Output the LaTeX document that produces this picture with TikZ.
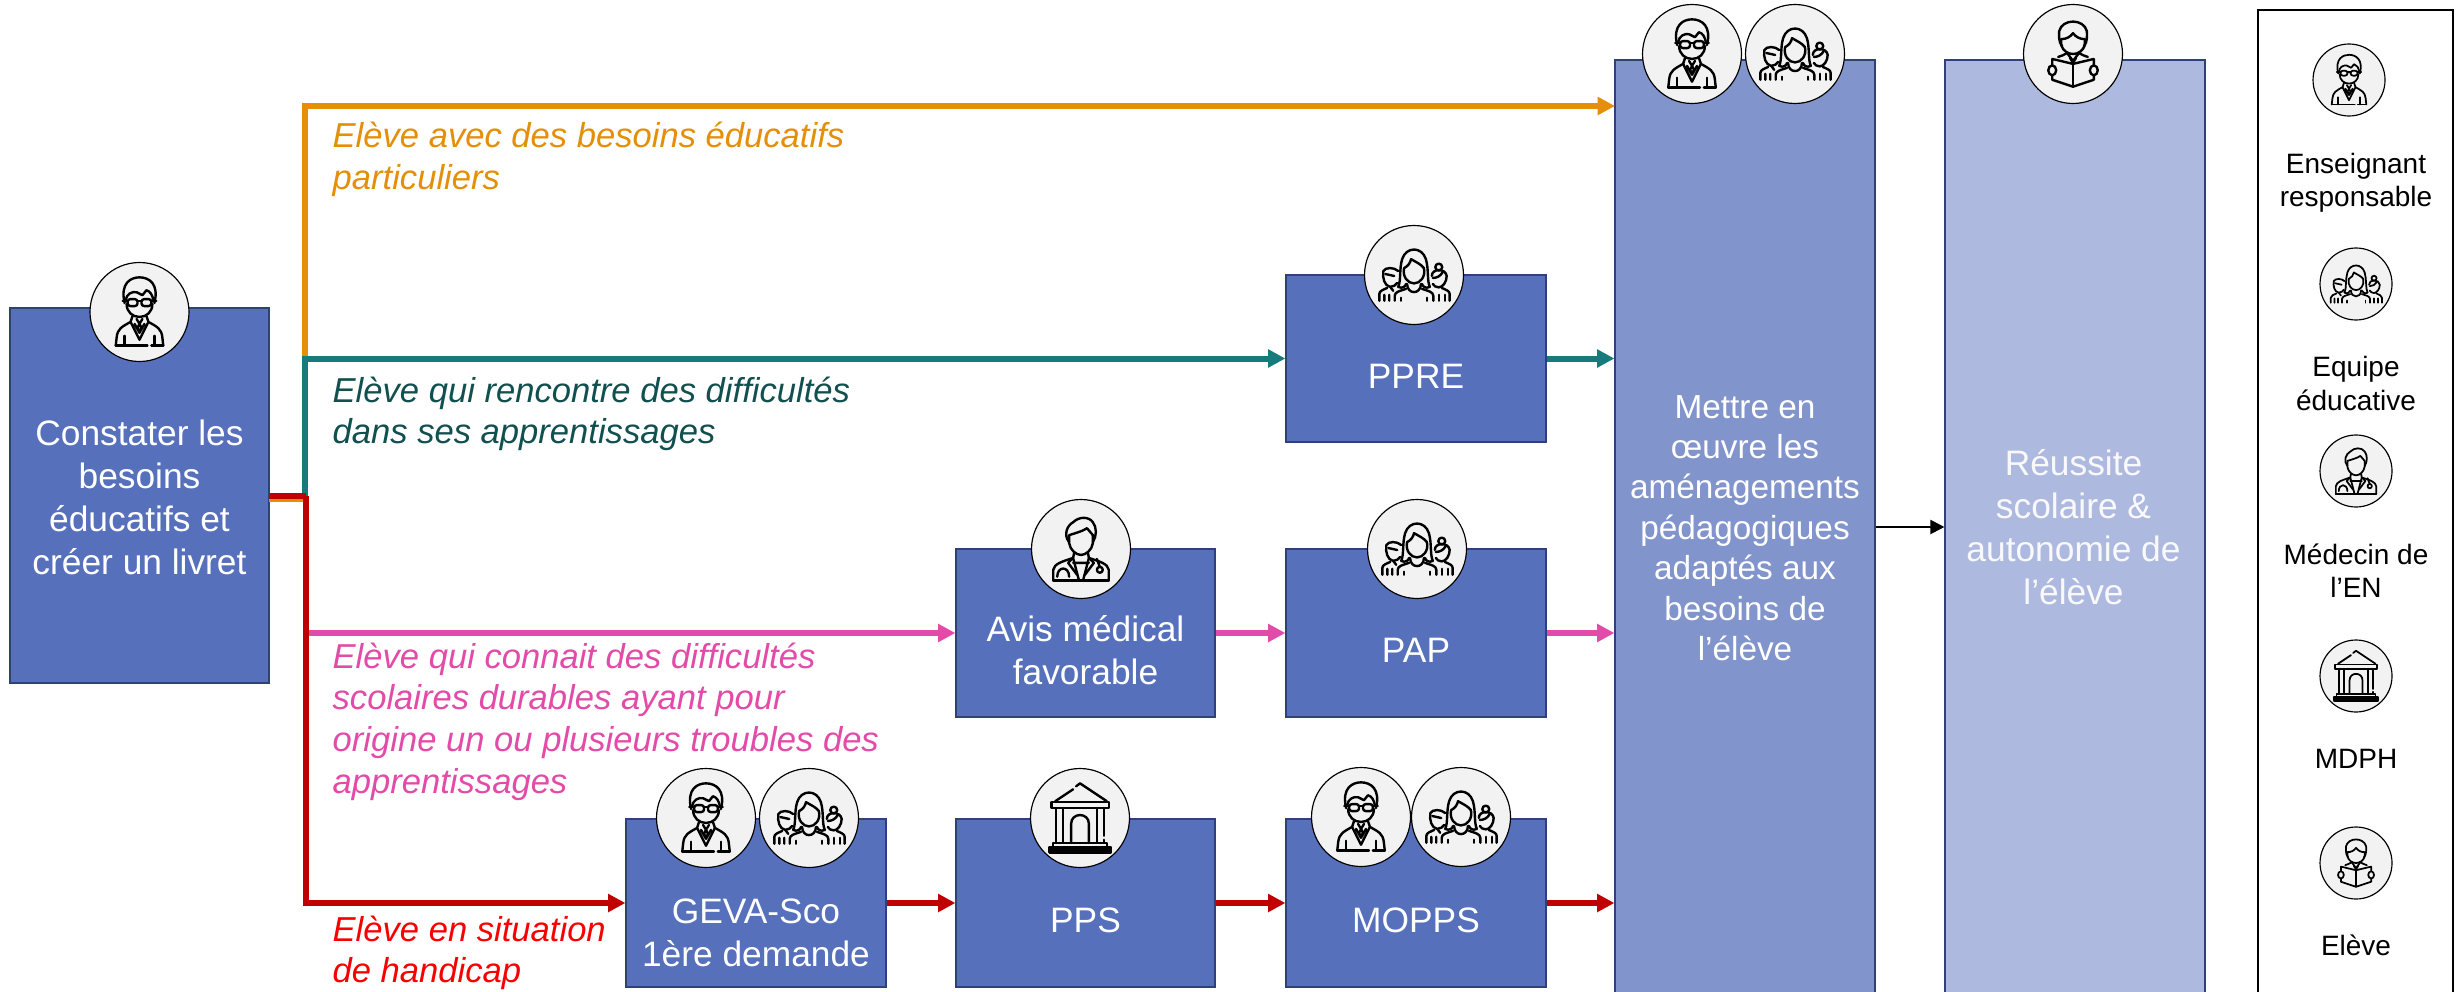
\documentclass[tikz,border=0pt]{standalone}
\usepackage{fontspec}
\setmainfont{Liberation Sans}
\usetikzlibrary{arrows.meta}
\definecolor{cbox}{HTML}{5670BC}
\definecolor{cmid}{HTML}{8294CC}
\definecolor{cres}{HTML}{AEB9DF}
\definecolor{cedge}{HTML}{2F4177}
\definecolor{cicon}{HTML}{F2F2F2}
\definecolor{corange}{HTML}{E48F07}
\definecolor{cteal}{HTML}{187B7B}
\definecolor{ctealt}{HTML}{124F4F}
\definecolor{cpink}{HTML}{E24BA8}
\definecolor{cdred}{HTML}{C00000}
\definecolor{credt}{HTML}{F80000}
\tikzset{
  x=0.3pt,y=-0.3pt,
  boxn/.style={draw=cedge,line width=0.35pt,fill=#1,inner sep=0pt},
  boxt/.style={text=white,align=center,inner sep=0pt,font=\fontsize{10.6}{12.9}\selectfont},
  note/.style={align=left,inner sep=0pt,anchor=west,font=\fontsize{10.38}{12.5}\selectfont\itshape},
  legt/.style={text=black,align=center,inner sep=0pt,font=\fontsize{8.4}{10}\selectfont},
  iconc/.style={circle,draw=black,line width=0.35pt,fill=cicon,inner sep=0pt},
  conn/.style={line width=1.8pt,-{Triangle[length=5.2pt,width=5.2pt]}},
  stem/.style={line width=1.8pt},
  ic/.style={line cap=round,line join=round},
  pics/teacher/.style={code={
    \draw[ic] (-15,-9) .. controls (-20,-30) and (-8,-35) .. (0,-35) .. controls (10,-35) and (20,-28) .. (15,-9);
    \draw[ic] (-14,-12) .. controls (-13,-18) and (-8,-21) .. (-3,-20) -- (3,-17) -- (7,-22) .. controls (11,-21) and (13,-17) .. (14,-12);
    \draw[ic] (-13,-8) .. controls (-13,0) and (-7,5) .. (0,5) .. controls (7,5) and (13,0) .. (13,-8);
    \draw[ic,rounded corners=0.8pt] (-12,-13) rectangle (-2,-6) (2,-13) rectangle (12,-6);
    \draw[ic] (-2,-11) -- (2,-11) (-12,-11) -- (-17,-11) (12,-11) -- (17,-11);
    \draw[ic] (-24,34) -- (-23,25) .. controls (-22,17) and (-18,15) .. (-9,10) -- (-7,4);
    \draw[ic] (24,34) -- (23,25) .. controls (22,17) and (18,15) .. (9,10) -- (7,4);
    \draw[ic] (-24,34) -- (8,34) (12,34) -- (24,34);
    \draw[ic] (-15,24) -- (-15,34) (15,24) -- (15,34);
    \draw[ic] (-9,10) -- (0,28) -- (9,10) (-5,12) -- (0,21) -- (5,12);
    \draw[ic] (-3,7) -- (0,12) -- (3,7) (0,12) -- (-2,16) -- (0,20) -- (2,16) -- (0,12);
  }},
  pics/team/.style={code={
    \draw[ic] (-16,12) .. controls (-13,6) and (-15,-6) .. (-12,-16) .. controls (-8,-29) and (8,-29) .. (12,-16) .. controls (15,-6) and (13,6) .. (16,12);
    \draw[ic] (-16,12) .. controls (-12,14) and (-9,12) .. (-8,9) (16,12) .. controls (12,14) and (9,12) .. (8,9);
    \draw[ic] (-10,-7) .. controls (-6,-9) and (-4,-12) .. (-3,-16) .. controls (2,-13) and (7,-11) .. (10,-7);
    \draw[ic] (-10,-7) .. controls (-12,2) and (-6,8.5) .. (0,8.5) .. controls (6,8.5) and (12,2) .. (10,-7);
    \draw[ic] (-7,9) .. controls (-7,20) and (7,20) .. (7,9);
    \draw[ic] (-19.5,26) -- (-19.5,21) .. controls (-19.5,17) and (-14,16) .. (-8,14);
    \draw[ic] (19.5,26) -- (19.5,21) .. controls (19.5,17) and (14,16) .. (8,14);
    \draw[ic] (-13,23) -- (-13,26) (13,23) -- (13,26);
    \draw[ic] (-16,-4) .. controls (-20,-8) and (-29,-8) .. (-31,-4) .. controls (-32,3) and (-30,11) .. (-24,12) .. controls (-21,12) and (-18,10) .. (-17,8);
    \draw[ic] (-29,-1) -- (-20,1);
    \draw[ic] (-35,26) -- (-35,19) .. controls (-35,16) and (-31,15) .. (-27,13);
    \draw[ic] (-30,20) -- (-30,26) (-25,20) -- (-25,26) (-24,12) -- (-21,16);
    \draw[ic] (25,-8) circle (3.5);
    \draw[ic] (18,1) .. controls (18,-7) and (32,-7) .. (33,1) .. controls (33,7) and (29,12.5) .. (25,12.5) .. controls (22,12.5) and (20,11) .. (19,9);
    \draw[ic] (19,3) .. controls (23,3) and (27,1) .. (29,-3);
    \draw[ic] (36,26) -- (36,19) .. controls (36,16) and (32,15) .. (28,13);
    \draw[ic] (31,20) -- (31,26) (25,20) -- (25,26);
  }},
  pics/doctor/.style={code={
    \draw[ic] (-12,-7) .. controls (-18,-14) and (-14,-24) .. (-8,-27) .. controls (-2,-33) and (8,-33) .. (12,-27) .. controls (16,-22) and (16,-13) .. (12,-7);
    \draw[ic] (-12,-14) .. controls (-6,-16) and (2,-18) .. (6,-21) .. controls (8,-18) and (11,-16) .. (12,-14);
    \draw[ic] (-12,-14) -- (-12,-6) .. controls (-11,1) and (-5,6) .. (0,6) .. controls (5,6) and (11,1) .. (12,-6) -- (12,-14);
    \draw[ic] (-28,32) -- (-28,21) .. controls (-27,15) and (-20,13) .. (-8,9) -- (-7,4);
    \draw[ic] (28,32) -- (28,21) .. controls (27,15) and (20,13) .. (8,9) -- (7,4);
    \draw[ic] (-28,32) -- (28,32);
    \draw[ic] (-8,9) -- (-2,32) (8,9) -- (2,32) (-8,14) -- (8,14);
    \draw[ic] (-8,9) -- (-13,14) -- (-4,26) (8,9) -- (13,14) -- (4,26);
    \draw[ic] (-24,28) .. controls (-24,17) and (-12,17) .. (-12,28);
    \draw[ic] (19,21) circle (3);
    \draw[ic] (16,10) -- (19,18);
  }},
  pics/building/.style={code={
    \draw[ic] (-4,-32) -- (0,-35) -- (27,-17) (-7,-29) -- (-25,-17);
    \draw[ic] (-29,-16) rectangle (29,-10);
    \draw[ic] (-24,-10) -- (-24,25) (-17,-10) -- (-17,25) (17,-10) -- (17,25) (24,-10) -- (24,18) (24,22) -- (24,25);
    \draw[ic] (-9,25) -- (-9,6) .. controls (-9,-6) and (9,-6) .. (9,6) -- (9,25);
    \draw[ic] (-27,25) rectangle (27,29);
    \draw[ic] (-31,29) rectangle (31,35);
    \draw[ic] (-31,32) -- (31,32);
  }},
  pics/student/.style={code={
    \draw[ic] (-11,-8) .. controls (-15,-12) and (-14,-20) .. (-14,-23) .. controls (-11,-36) and (11,-36) .. (14,-23) .. controls (14,-20) and (15,-12) .. (11,-8);
    \draw[ic] (-12,-15) .. controls (-7,-15) and (-3,-17) .. (0,-21) .. controls (3,-17) and (7,-15) .. (12,-15);
    \draw[ic] (-12,-15) -- (-12,-9) .. controls (-10,-3) and (-5,0) .. (0,0) .. controls (5,0) and (10,-3) .. (12,-9) -- (12,-15);
    \draw[ic] (-21,5) -- (0,10) -- (21,5) (-21,5) -- (-21,26) -- (0,33) -- (21,26) -- (21,5);
    \draw[ic] (0,10) -- (0,33);
    \draw[ic] (-15,3) .. controls (-12,2) and (-9,1) .. (-6,-1) (15,3) .. controls (12,2) and (9,1) .. (6,-1);
    \draw[ic] (-6,-1) -- (0,7) -- (6,-1) (-3,4) -- (0,9) -- (3,4);
    \draw[ic,fill=cicon] (-21,16.5) ellipse (4 and 5) (21,16.5) ellipse (4 and 5);
  }}
}
\newcommand\iconat[5]{%
  \node[iconc,minimum size=#4*0.6pt] (#1) at (#2,#3) {};
  \pic[scale=#4/50,line width=#4*0.0145pt] at (#1.center) {#5};
}
\begin{document}
\begin{tikzpicture}
\useasboundingbox (0,0) rectangle (2458,992);
% boxes
\node[boxn=cbox,minimum width=259*0.3pt,minimum height=375*0.3pt] (left) at (139.5,495.5) {};
\node[boxn=cbox,minimum width=260*0.3pt,minimum height=167*0.3pt] (ppre) at (1416,358.5) {};
\node[boxn=cbox,minimum width=259*0.3pt,minimum height=168*0.3pt] (avis) at (1085.5,633) {};
\node[boxn=cbox,minimum width=260*0.3pt,minimum height=168*0.3pt] (pap) at (1416,633) {};
\node[boxn=cbox,minimum width=260*0.3pt,minimum height=168*0.3pt] (geva) at (756,903) {};
\node[boxn=cbox,minimum width=259*0.3pt,minimum height=168*0.3pt] (pps) at (1085.5,903) {};
\node[boxn=cbox,minimum width=260*0.3pt,minimum height=168*0.3pt] (mopps) at (1416,903) {};
\node[boxn=cmid,minimum width=260*0.3pt,minimum height=934*0.3pt] (mid) at (1745,527) {};
\node[boxn=cres,minimum width=260*0.3pt,minimum height=934*0.3pt] (res) at (2075,527) {};
\node[draw=black,line width=0.35pt,fill=white,inner sep=0pt,minimum width=195*0.3pt,minimum height=1010*0.3pt] (legend) at (2355.5,515) {};
% box texts
\node[boxt] (leftt) at (139.5,497) {Constater les\\besoins\\éducatifs et\\créer un livret};
\node[boxt] (ppret) at (1416,376) {PPRE};
\node[boxt] (avist) at (1085.5,650) {Avis médical\\favorable};
\node[boxt] (papt) at (1416,650) {PAP};
\node[boxt] (gevat) at (756,933) {GEVA-Sco\\1ère demande};
\node[boxt] (ppst) at (1085.5,920) {PPS};
\node[boxt] (moppst) at (1416,920) {MOPPS};
\node[boxt,font=\fontsize{10}{12.12}\selectfont] (midt) at (1745,528) {Mettre en\\œuvre les\\aménagements\\pédagogiques\\adaptés aux\\besoins de\\l’élève};
\node[boxt,text=white!92!cres] (rest) at (2073.5,527) {Réussite\\scolaire \&\\autonomie de\\l’élève};
% connectors
\coordinate (stemo) at (269,499);
\coordinate (truo) at (305,499);
\coordinate (stemr) at (269,496);
\coordinate (trur) at (305.5,496);
\coordinate (oend) at (1615,106);
\draw[stem,corange] (stemo) -- (truo);
\draw[conn,corange] (truo) |- (oend);
\draw[conn,cteal] (truo) |- (ppre.west);
\draw[conn,cteal] (ppre.east) -- (mid.west |- ppre.east);
\draw[conn,cpink] (trur) |- (avis.west);
\draw[conn,cpink] (avis.east) -- (pap.west);
\draw[conn,cpink] (pap.east) -- (mid.west |- pap.east);
\draw[stem,cdred] (stemr) -- (trur);
\draw[conn,cdred] (trur) |- (geva.west);
\draw[conn,cdred] (geva.east) -- (pps.west);
\draw[conn,cdred] (pps.east) -- (mopps.west);
\draw[conn,cdred] (mopps.east) -- (mid.west |- mopps.east);
\draw[line width=0.6pt,black,-{Triangle[length=4.2pt,width=4.2pt]}] (mid.east) -- (res.west);
% notes
\node[note,text=corange] (n1) at (332,159.5) {Elève avec des besoins éducatifs\\particuliers};
\node[note,text=ctealt] (n2) at (332,414) {Elève qui rencontre des difficultés\\dans ses apprentissages};
\node[note,text=cpink] (n3) at (332,721.5) {Elève qui connait des difficultés\\scolaires durables ayant pour\\origine un ou plusieurs troubles des\\apprentissages};
\node[note,text=credt] (n4) at (332,953) {Elève en situation\\de handicap};
% icons
\iconat{i1}{139.5}{312}{49.5}{teacher}
\iconat{i2}{1414}{275}{49.5}{team}
\iconat{i3}{1081}{549}{49.5}{doctor}
\iconat{i4}{1417}{549}{49.5}{team}
\iconat{i5}{706}{818}{49.5}{teacher}
\iconat{i6}{809}{818}{49.5}{team}
\iconat{i7}{1080}{818}{49.5}{building}
\iconat{i8}{1361}{817}{49.5}{teacher}
\iconat{i9}{1461}{817}{49.5}{team}
\iconat{i10}{1692}{54}{49.5}{teacher}
\iconat{i11}{1795}{54}{49.5}{team}
\iconat{i12}{2073}{54}{49.5}{student}
\iconat{l1}{2349}{80}{36}{teacher}
\iconat{l2}{2356}{284}{36}{team}
\iconat{l3}{2356}{471}{36}{doctor}
\iconat{l4}{2356}{676}{36}{building}
\iconat{l5}{2356}{863}{36}{student}
% legend text
\node[legt] (lt1) at (2356,183) {Enseignant\\responsable};
\node[legt] (lt2) at (2356,383.5) {Equipe\\éducative};
\node[legt] (lt3) at (2356,571) {Médecin de\\l’EN};
\node[legt] (lt4) at (2356,758.5) {MDPH};
\node[legt] (lt5) at (2356,945.5) {Elève};
\end{tikzpicture}
\end{document}
